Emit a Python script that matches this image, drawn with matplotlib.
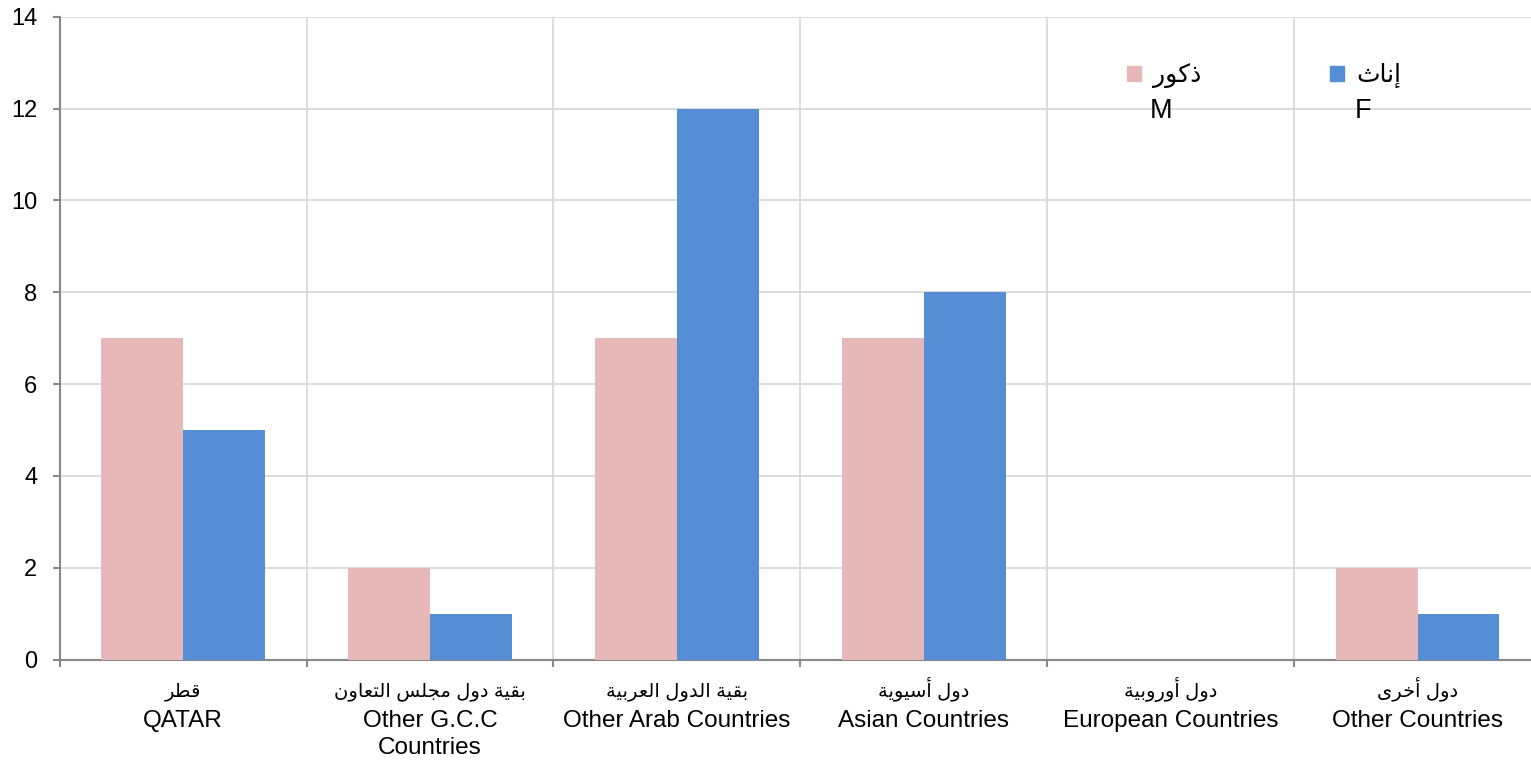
import unicodedata
import matplotlib
matplotlib.use('Agg')
import matplotlib.pyplot as plt
from matplotlib.patches import Patch

# data
ar_labels = ['قطر', 'بقية دول مجلس التعاون', 'بقية الدول العربية', 'دول أسيوية', 'دول أوروبية', 'دول أخرى']
en_labels = ['QATAR', 'Other G.C.C\nCountries', 'Other Arab Countries', 'Asian Countries',
             'European Countries', 'Other Countries']
male = [7, 2, 7, 7, 0, 2]
female = [5, 1, 12, 8, 0, 1]
male_ar, female_ar = 'ذكور', 'إناث'

# simple arabic shaping (presentation forms + visual order)
FORMS = {}
for cp in range(0xFE70, 0xFEFF):
    d = unicodedata.decomposition(chr(cp))
    if d.startswith('<'):
        parts = d.split()
        if len(parts) == 2:
            FORMS[(chr(int(parts[1], 16)), parts[0][1:-1])] = chr(cp)


def shape(txt):
    out = []
    for i, c in enumerate(txt):
        prev = txt[i - 1] if i > 0 else ''
        nxt = txt[i + 1] if i < len(txt) - 1 else ''
        jp = (prev, 'initial') in FORMS and (c, 'final') in FORMS
        jn = (c, 'initial') in FORMS and (nxt, 'final') in FORMS
        form = 'medial' if (jp and jn) else 'final' if jp else 'initial' if jn else 'isolated'
        out.append(FORMS.get((c, form), FORMS.get((c, 'isolated'), c)))
    return ''.join(out)[::-1]


FAM = ['Liberation Sans', 'DejaVu Sans']
plt.rcParams['font.family'] = FAM
pink = '#e6b9b8'
blue = '#558ed5'

fig = plt.figure(figsize=(15.31, 7.60), dpi=100)
# plot area runs a bit past the right edge of the image, like the original
ax = fig.add_axes([0.039, 0.132, 0.9675, 0.846])

w = 0.332
x = list(range(len(male)))
ax.bar([i - w / 2 for i in x], male, w, color=pink, zorder=3)
ax.bar([i + w / 2 for i in x], female, w, color=blue, zorder=3)

ax.set_xlim(-0.5, len(x) - 0.5)
ax.set_ylim(0, 14)
ax.set_yticks(range(0, 15, 2))
ax.set_xticks([i - 0.5 for i in x])
ax.set_xticklabels([])
ax.grid(True, color='#d9d9d9', linewidth=1.3, zorder=0)
for s in ['top', 'right']:
    ax.spines[s].set_visible(False)
for s in ['left', 'bottom']:
    ax.spines[s].set_color('#888888')
    ax.spines[s].set_linewidth(1.5)
ax.tick_params(axis='both', direction='out', length=5, width=1.5, color='#888888',
               labelsize=17, pad=11)

for i in x:
    ax.annotate(shape(ar_labels[i]), xy=(i, 0), xycoords=('data', 'axes fraction'),
                xytext=(0, -26.6), textcoords='offset points', ha='center', va='baseline',
                fontsize=14, family=FAM)
    ax.annotate(en_labels[i], xy=(i, 0), xycoords=('data', 'axes fraction'),
                xytext=(0, -36.5), textcoords='offset points', ha='center', va='top',
                fontsize=17.5, linespacing=1.3)

handles = [Patch(color=pink), Patch(color=blue)]
fig.legend(handles, [shape(male_ar), shape(female_ar)], ncol=2, frameon=False,
           loc='upper left', bbox_to_anchor=(0.7361, 0.917),
           handlelength=0.56, handleheight=0.56, handletextpad=0.5, columnspacing=5.12,
           borderpad=0, borderaxespad=0, prop={'family': FAM, 'size': 18})
fig.text(0.7511, 0.854, 'M', fontsize=19.5, va='center')
fig.text(0.885, 0.854, 'F', fontsize=19.5, va='center')

fig.savefig('out.png', dpi=100)
